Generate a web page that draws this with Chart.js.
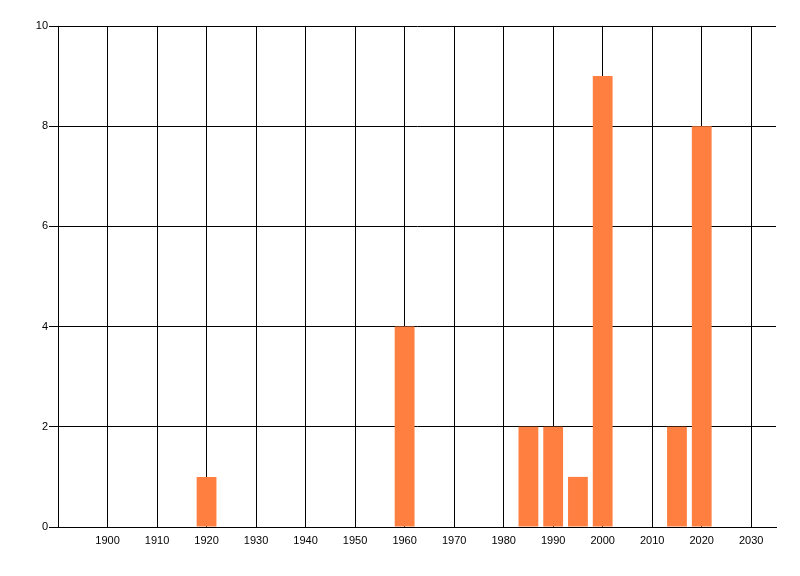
<!DOCTYPE html>
<html>
<head>
<meta charset="utf-8">
<script src="https://cdn.jsdelivr.net/npm/chart.js@4.4.1/dist/chart.umd.min.js"></script>
<style>
  html, body { margin: 0; padding: 0; background: #fff; }
  canvas { display: block; }
</style>
</head>
<body>
<canvas id="chart" width="800" height="576"></canvas>
<script>
const years = [1920, 1960, 1985, 1990, 1995, 2000, 2015, 2020];
const counts = [1, 4, 2, 2, 1, 9, 2, 8];
const xTicks = [1900, 1910, 1920, 1930, 1940, 1950, 1960, 1970, 1980, 1990, 2000, 2010, 2020, 2030];
const yTicks = [0, 2, 4, 6, 8, 10];

const tickFont = { family: '"Liberation Sans", Arial, sans-serif', size: 11 };

new Chart(document.getElementById('chart'), {
    type: 'bar',
    data: {
        datasets: [{
            data: years.map((y, i) => ({ x: y, y: counts[i] })),
            backgroundColor: '#ff7f40',
            borderWidth: 0,
            barPercentage: 0.8,
            categoryPercentage: 1,
        }],
    },
    options: {
        responsive: false,
        animation: false,
        layout: { padding: { left: 0, top: 26, right: 24, bottom: 0 } },
        plugins: {
            legend: { display: false },
            tooltip: { enabled: false },
        },
        scales: {
            x: {
                type: 'linear',
                min: 1890,
                max: 2035,
                offset: false,
                afterBuildTicks: scale => { scale.ticks = xTicks.map(v => ({ value: v })); },
                afterFit: scale => { scale.height = 49; },
                ticks: {
                    font: tickFont,
                    color: '#000',
                    padding: 7,
                    maxRotation: 0,
                    callback: v => String(v),
                },
                grid: { color: '#000', lineWidth: 1, drawTicks: false, offset: false },
                border: { color: '#000', width: 1 },
            },
            y: {
                min: 0,
                max: 10,
                afterBuildTicks: scale => { scale.ticks = yTicks.map(v => ({ value: v })); },
                afterFit: scale => { scale.width = 58; },
                ticks: {
                    font: tickFont,
                    color: '#000',
                    padding: 1,
                },
                grid: { color: '#000', lineWidth: 1, drawTicks: true, tickLength: 9, tickColor: '#000' },
                border: { color: '#000', width: 1 },
            },
        },
    },
});
</script>
</body>
</html>
